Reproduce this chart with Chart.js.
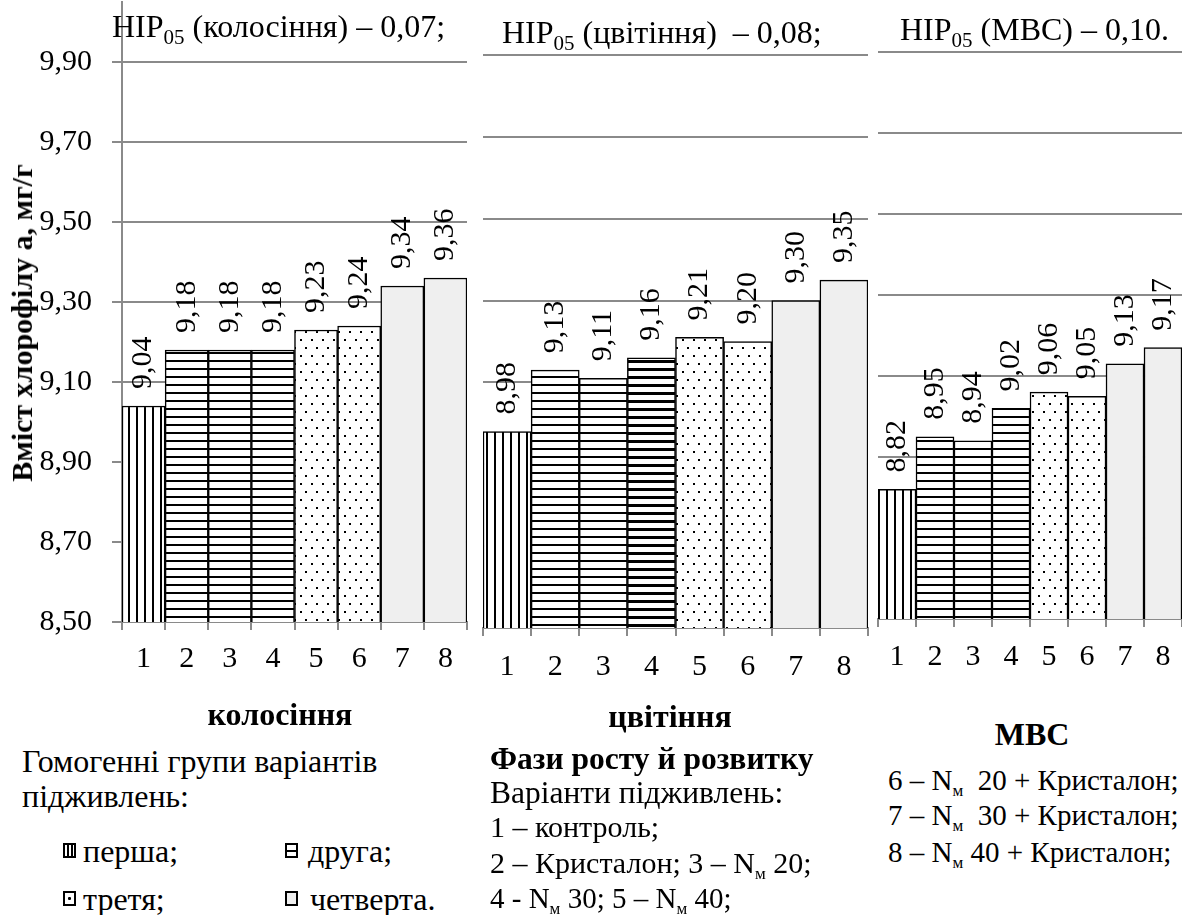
<!DOCTYPE html>
<html lang="uk">
<head>
<meta charset="utf-8">
<title>Вміст хлорофілу а</title>
<script src="https://cdn.jsdelivr.net/npm/chart.js@4.4.1/dist/chart.umd.min.js"></script>
<style>
    body { margin: 0; background: #fff; }
    #page { position: relative; width: 1182px; height: 915px; overflow: hidden;
            font-family: "Liberation Serif", "DejaVu Serif", serif; color: #000; }
    canvas { position: absolute; top: 0; }
    .t { position: absolute; white-space: nowrap; font-size: 32px; line-height: 32px; }
    .v { font-size: 30px; line-height: 30px; }
    .r { font-size: 29px; line-height: 29px; }
    .b { font-weight: bold; }
    .c { transform: translateX(-50%); }
    sub { font-size: 21px; vertical-align: -7px; line-height: 0; }
    .m { font-size: 17px; vertical-align: -6px; line-height: 0; }
    .sym { position: absolute; width: 9px; height: 11px; border: 2px solid #000; background: #fff; }
    .s1 { background: repeating-linear-gradient(90deg, #fff 0 2.5px, #000 2.5px 4px); }
    .s2 { background: linear-gradient(#fff 0 4.5px, #000 4.5px 6.5px, #fff 6.5px); }
    .s3 { background: radial-gradient(circle at 50% 50%, #000 0 1.3px, #fff 1.7px); }
    .s4 { background: #efefef; }
</style>
</head>
<body>
<div id="page">
    <canvas id="chartEar" width="470" height="700" style="left:0"></canvas>
    <canvas id="chartBloom" width="400" height="700" style="left:470px"></canvas>
    <canvas id="chartWax" width="312" height="700" style="left:870px"></canvas>

    <!-- panel titles -->
    <div class="t" style="left:112px; top:10px">НІР<sub>05</sub> (колосіння) – 0,07;</div>
    <div class="t" style="left:502px; top:16px">НІР<sub>05</sub> (цвітіння)&nbsp; – 0,08;</div>
    <div class="t" style="left:900px; top:13px">НІР<sub>05</sub> (МВС) – 0,10.</div>

    <!-- y axis title -->
    <div class="t b" style="left:22px; top:323px; font-size:30px; transform: translate(-50%, -50%) rotate(-90deg)">Вміст хлорофілу а, мг/г</div>

    <!-- phase names -->
    <div class="t b c" style="left:280px; top:698px">колосіння</div>
    <div class="t b c" style="left:670px; top:700px">цвітіння</div>
    <div class="t b c" style="left:1032px; top:718px">МВС</div>

    <!-- groups legend -->
    <div class="t" style="left:22px; top:745px">Гомогенні групи варіантів</div>
    <div class="t" style="left:22px; top:780px">підживлень:</div>
    <div class="sym s1" style="left:63px; top:843px"></div>
    <div class="t" style="left:83px; top:835px">перша;</div>
    <div class="sym s2" style="left:285px; top:843px"></div>
    <div class="t" style="left:308px; top:835px">друга;</div>
    <div class="sym s3" style="left:63px; top:891px"></div>
    <div class="t" style="left:83px; top:883px">третя;</div>
    <div class="sym s4" style="left:285px; top:891px"></div>
    <div class="t" style="left:310px; top:883px">четверта.</div>

    <!-- variants -->
    <div class="t b" style="left:490px; top:743px; font-size:31.5px">Фази росту й розвитку</div>
    <div class="t" style="left:490px; top:777px; font-size:31.5px">Варіанти підживлень:</div>
    <div class="t v" style="left:490px; top:812px">1 – контроль;</div>
    <div class="t v" style="left:490px; top:848px">2 – Кристалон; 3 – N<span class="m">м</span> 20;</div>
    <div class="t v r" style="left:490px; top:884px">4 - N<span class="m">м</span> 30; 5 – N<span class="m">м</span> 40;</div>
    <div class="t r" style="left:888px; top:766px">6 – N<span class="m">м</span>&nbsp; 20 + Кристалон;</div>
    <div class="t r" style="left:888px; top:801px">7 – N<span class="m">м</span>&nbsp; 30 + Кристалон;</div>
    <div class="t r" style="left:888px; top:838px">8 – N<span class="m">м</span> 40 + Кристалон;</div>
</div>

<script>
// 1. DATA
const variants = ['1', '2', '3', '4', '5', '6', '7', '8'];
const earValues = [9.04, 9.18, 9.18, 9.18, 9.23, 9.24, 9.34, 9.36];    // колосіння
const bloomValues = [8.98, 9.13, 9.11, 9.16, 9.21, 9.20, 9.30, 9.35];  // цвітіння
const waxValues = [8.82, 8.95, 8.94, 9.02, 9.06, 9.05, 9.13, 9.17];    // МВС
const groups = [1, 2, 2, 2, 3, 3, 4, 4];                                // гомогенні групи
const yTicks = [8.50, 8.70, 8.90, 9.10, 9.30, 9.50, 9.70, 9.90];

const GRID = '#8a8a8a';
const FONT = '"Liberation Serif", "DejaVu Serif", serif';
Chart.defaults.font.family = FONT;
Chart.defaults.color = '#000';

const fmt = v => v.toFixed(2).replace('.', ',');

// 2. HATCH PATTERNS
const makePattern = (w, h, draw) => {
    const c = document.createElement('canvas');
    c.width = w; c.height = h;
    const g = c.getContext('2d');
    g.fillStyle = '#fff';
    g.fillRect(0, 0, w, h);
    g.fillStyle = '#000';
    draw(g);
    return g.createPattern(c, 'repeat');
};
const fills = {
    1: makePattern(8, 8, g => g.fillRect(0, 0, 2, 8)),
    2: makePattern(8, 8, g => g.fillRect(0, 0, 8, 2)),
    2.5: makePattern(8, 8, g => g.fillRect(0, 0, 8, 3)),
    3: makePattern(11, 16, g => { g.fillRect(3, 3, 2, 2); g.fillRect(8, 11, 2, 2); }),
    4: '#efefef'
};

// 3. ROTATED VALUE LABELS
const barLabels = {
    id: 'barLabels',
    afterDatasetsDraw(chart) {
        const ctx = chart.ctx;
        const values = chart.data.datasets[0].data;
        ctx.save();
        ctx.font = '30px ' + FONT;
        ctx.fillStyle = '#000';
        ctx.textAlign = 'left';
        ctx.textBaseline = 'middle';
        chart.getDatasetMeta(0).data.forEach((bar, i) => {
            ctx.save();
            ctx.translate(bar.x, bar.y - 17);
            ctx.rotate(-Math.PI / 2);
            ctx.fillText(fmt(values[i]), 0, 0);
            ctx.restore();
        });
        ctx.restore();
    }
};

// 4. PANELS
const makePanel = (id, values, cfg) => {
    const colors = values.map((v, i) => fills[cfg.boldBar === i ? 2.5 : groups[i]]);
    new Chart(document.getElementById(id), {
        type: 'bar',
        data: {
            labels: variants,
            datasets: [{
                data: values,
                backgroundColor: colors,
                borderColor: '#000',
                borderWidth: 1.5,
                barPercentage: 1,
                categoryPercentage: 1
            }]
        },
        options: {
            responsive: false,
            animation: false,
            layout: { padding: { top: cfg.top, right: cfg.right, left: 0, bottom: 0 } },
            plugins: { legend: { display: false }, tooltip: { enabled: false } },
            scales: {
                x: {
                    grid: { drawOnChartArea: false, drawTicks: true, tickLength: 8, color: GRID, lineWidth: 2 },
                    border: { display: true, color: GRID, width: 2 },
                    ticks: { font: { size: 30 }, padding: cfg.xPad, color: '#000' },
                    afterFit: s => { s.height = cfg.xHeight; s.paddingLeft = 0; s.paddingRight = 0; }
                },
                y: {
                    min: 8.5,
                    max: cfg.max,
                    afterBuildTicks: s => { s.ticks = yTicks.map(v => ({ value: v })); },
                    grid: { color: GRID, lineWidth: 2, drawTicks: cfg.axis, tickLength: 10 },
                    border: { display: cfg.axis, color: GRID, width: 2 },
                    ticks: { display: cfg.axis, font: { size: 30 }, padding: 20, color: '#000', callback: v => fmt(v) },
                    afterFit: s => { s.width = cfg.yWidth; s.paddingTop = 0; s.paddingBottom = 0; }
                }
            }
        },
        plugins: [barLabels]
    });
};

makePanel('chartEar', earValues, { top: 2, right: 3, max: 10.05, yWidth: 122, xHeight: 78, xPad: 11, axis: true });
makePanel('chartBloom', bloomValues, { top: 55, right: 2, max: 9.9, yWidth: 13, xHeight: 72, xPad: 13, axis: false, boldBar: 3 });
makePanel('chartWax', waxValues, { top: 52, right: 0, max: 9.9, yWidth: 8, xHeight: 81, xPad: 12, axis: false });
</script>
</body>
</html>
